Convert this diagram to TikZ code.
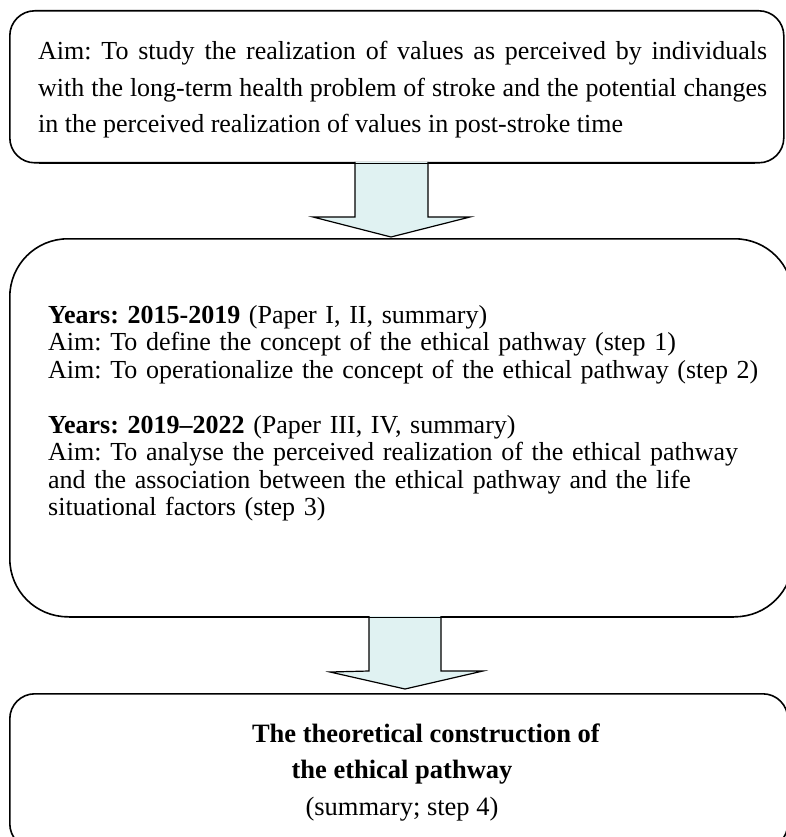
\documentclass[tikz,border=0pt]{standalone}
\usepackage{fontspec}
\setmainfont{Liberation Serif}
\definecolor{arrowfill}{RGB}{224,242,242}
\begin{document}
\begin{tikzpicture}[x=1pt,y=-1pt,
  panel/.style={draw=black,line width=1.6pt,fill=white,inner sep=0pt,
    rectangle,anchor=north west},
  blockarrow/.style={draw=black,line width=1.2pt,fill=arrowfill,line join=miter},
  bodytext/.style={inner sep=0pt,font=\fontsize{26}{36.5}\selectfont\frenchspacing},
  listtext/.style={inner sep=0pt,font=\fontsize{26}{27.5}\selectfont\frenchspacing},
  finaltext/.style={inner sep=0pt,anchor=base,font=\fontsize{26.5}{36}\selectfont}]
\useasboundingbox (0,0) rectangle (786,837);

% three panels
\node[panel,rounded corners=25pt,minimum width=774pt,minimum height=152pt] (aim) at (9,10) {};
\node[panel,rounded corners=58pt,minimum width=783pt,minimum height=378pt] (steps) at (9,238) {};
\node[panel,rounded corners=25pt,minimum width=778pt,minimum height=155pt] (result) at (9,693) {};

% block arrows between the panels
\draw[blockarrow] (355,162) -- (355,217) -- (313,217) -- (391,237)
  -- (470,217) -- (428,217) -- (428,162);
\draw[blockarrow] (369,616) -- (369,671) -- (330,672) -- (405,689)
  -- (483,671) -- (441,671) -- (441,616);
\draw[line width=1.6pt] (aim.south west) ++(30,0) -- ([xshift=-30pt]aim.south east);
\draw[line width=1.6pt] (steps.south west) ++(60,0) -- ([xshift=-60pt]steps.south east);

% texts
\node[bodytext,text width=729pt,align=justify,anchor=base west] (aimtext) at (38,60)
  {Aim: To study the realization of values as perceived by individuals\linebreak
   with the long-term health problem of stroke and the potential changes\linebreak
   in the perceived realization of values in post-stroke time};

\node[listtext,text width=730pt,align=left,anchor=base west] (steptext) at (48,323)
  {\textbf{Years: 2015-2019} (Paper I, II, summary)\\
   Aim: To define the concept of the ethical pathway (step 1)\\
   Aim: To operationalize the concept of the ethical pathway (step 2)\\[27.5pt]
   \textbf{Years: 2019–2022} (Paper III, IV, summary)\\
   Aim: To analyse the perceived realization of the ethical pathway\\
   and the association between the ethical pathway and the life\\
   situational factors (step 3)};

\node[finaltext] (final1) at (426,742) {\textbf{The theoretical construction of}};
\node[finaltext] (final2) at (402,778) {\textbf{the ethical pathway}};
\node[finaltext] (final3) at (402,815) {(summary; step 4)};
\end{tikzpicture}
\end{document}
